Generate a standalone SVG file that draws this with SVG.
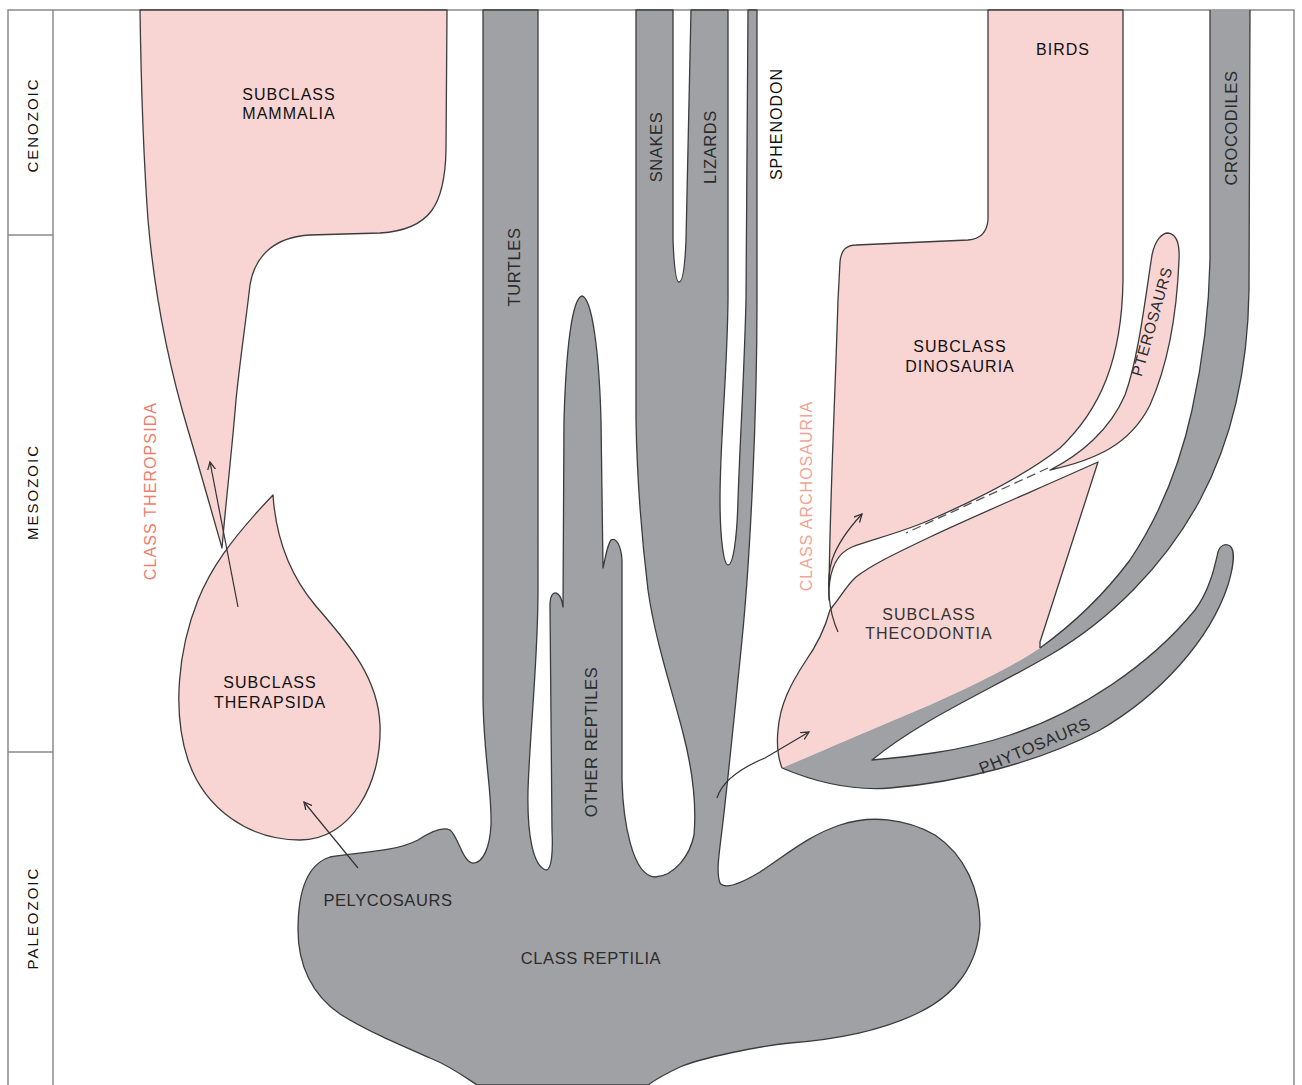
<svg xmlns="http://www.w3.org/2000/svg" width="1302" height="1085" viewBox="0 0 1302 1085">
<defs>
<style>
.pink{fill:#f8d4d2;stroke:#3c3c3c;stroke-width:1.3;stroke-linejoin:round}
.pinkf{fill:#f8d4d2;stroke:none}
.gray{fill:#a0a1a5;stroke:#3c3c3c;stroke-width:1.3;stroke-linejoin:round}
.grayf{fill:#a0a1a5;stroke:none}
.edge{fill:none;stroke:#3c3c3c;stroke-width:1.3;stroke-linejoin:round}
.frame{fill:none;stroke:#8a8a8a;stroke-width:1.5}
text{font-family:"Liberation Sans",Arial,sans-serif}
.lbl{font-size:16px;fill:#111;text-anchor:middle;letter-spacing:1px}
.glbl{font-size:16.5px;fill:#2b2b2b;text-anchor:middle;letter-spacing:0.6px}
.era{font-size:15px;fill:#111;text-anchor:middle;letter-spacing:2px}
.cls{font-size:16px;fill:#f07c6c;text-anchor:middle;letter-spacing:1.1px}
.cls2{font-size:16px;fill:#f3a394;text-anchor:middle;letter-spacing:1px}
.arr{fill:none;stroke:#333;stroke-width:1.2;marker-end:url(#ah)}
.dash{fill:none;stroke:#555;stroke-width:1.3;stroke-dasharray:9 5}
</style>
<marker id="ah" markerWidth="12" markerHeight="12" refX="8" refY="4" orient="auto" markerUnits="userSpaceOnUse">
<path d="M0,0 L8,4 L0,8" fill="none" stroke="#333" stroke-width="1.3"/>
</marker>
</defs>
<rect width="1302" height="1085" fill="#ffffff"/>

<g id="frame">
<path class="frame" d="M8,1085 L8,10 L1294,10 L1294,1085 M53,10 L53,1085 M8,235 L53,235 M8,752 L53,752"/>
<text class="era" transform="translate(38,125) rotate(-90)">CENOZOIC</text>
<text class="era" transform="translate(38,492) rotate(-90)">MESOZOIC</text>
<text class="era" transform="translate(38,918) rotate(-90)">PALEOZOIC</text>
</g>

<g id="reptilia">
<path class="gray" d="M483,10 L538,10 L538,590 C538,660 530,730 528,790 C527,835 533,866 546,870 C552,870 553,850 552,830 L550,605 C550,596 553,592 556,593 C560,594 562,600 563,607 L564,420 C566,350 572,298 582,296 C592,298 599,350 601,420 L603,568 C605,560 607,545 611,540 C616,537 621,545 622,560 L622,780 C623,820 632,876 655,877 C675,876 690,855 694,835 C697,800 690,760 683,733 C672,690 655,640 648,590 C642,540 637,480 636,420 L636,10 L673,10 L673,240 C674,265 676,282 679,282 C683,282 685,265 686,240 L691,10 L728,10 L728,300 C727,380 720,440 720,500 C720,540 724,565 728,565 C733,565 737,540 738,500 C740,440 744,380 746,300 L748,10 L757,10 L757,300 C757,420 750,560 742,640 C736,700 728,780 722,830 C719,855 716,872 720,883 C725,890 740,884 760,872 C790,852 810,835 840,825 C870,815 905,818 935,835 C965,855 980,890 980,925 C978,965 955,995 920,1012 C880,1032 830,1040 790,1043 C760,1046 700,1058 680,1067 C665,1074 655,1080 648,1085 L477,1085 C462,1075 450,1066 430,1058 C400,1045 365,1030 340,1014 C312,995 298,965 298,930 C298,895 305,865 330,857 C360,852 395,852 418,840 C430,832 442,826 450,830 C458,836 462,860 472,863 C484,864 490,845 491,825 C492,790 484,760 483,700 Z"/>
<text class="glbl" transform="translate(520,267) rotate(-90)">TURTLES</text>
<text class="glbl" transform="translate(597,742) rotate(-90)">OTHER REPTILES</text>
<text class="glbl" transform="translate(662,147) rotate(-90)">SNAKES</text>
<text class="glbl" transform="translate(716,147) rotate(-90)">LIZARDS</text>
<text class="lbl" transform="translate(782,124) rotate(-90)">SPHENODON</text>
<text class="glbl" x="388" y="906">PELYCOSAURS</text>
<text class="glbl" x="591" y="964">CLASS REPTILIA</text>
</g>

<g id="mammalia">
<path class="pink" d="M140,10 L447,10 L446,150 C445,205 430,230 380,233 L310,235 C275,237 255,255 250,285 C246,320 240,360 236,400 C232,450 226,500 222,548 C214,520 200,470 188,430 C170,370 155,300 148,220 C143,150 141,80 140,10 Z"/>
<text class="lbl" x="289" y="100">SUBCLASS</text>
<text class="lbl" x="289" y="119">MAMMALIA</text>
</g>

<g id="therapsida">
<path class="pink" d="M273,495 C276,540 290,575 315,605 C345,640 378,675 380,725 C382,785 350,840 300,840 C250,840 205,810 188,760 C172,712 178,650 198,600 C210,570 230,540 273,495 Z"/>
<text class="lbl" x="270" y="688">SUBCLASS</text>
<text class="lbl" x="270" y="708">THERAPSIDA</text>
<text class="cls" transform="translate(156,491) rotate(-90)">CLASS THEROPSIDA</text>
</g>

<g id="thecodontia">
<path class="pinkf" d="M1098,462 L1040,642 L1040,648 C1015,665 975,685 930,705 C870,730 820,752 782,768 C777,755 777,740 778,730 C780,705 790,685 805,662 C817,645 826,625 830,610 L833,606 C840,598 846,586 856,577 C870,566 890,556 930,537 C970,518 1040,488 1098,462 Z"/>
</g>

<g id="crocodiles">
<path class="grayf" d="M1210,10 L1250,10 L1249,290 C1248,370 1232,440 1200,500 C1165,565 1110,620 1050,655 C990,690 920,720 872,760 C905,757 960,752 1010,735 C1080,712 1150,665 1195,610 C1210,590 1215,565 1218,552 C1220,545 1226,543 1230,546 C1235,550 1234,565 1228,585 C1210,640 1160,695 1100,730 C1040,762 960,782 890,788 C850,791 815,782 782,768 C820,752 870,730 930,705 C975,685 1015,665 1040,648 C1065,630 1100,600 1130,560 C1160,515 1180,465 1192,410 C1203,360 1209,310 1210,260 Z"/>
<path class="edge" d="M1040,648 C1065,630 1100,600 1130,560 C1160,515 1180,465 1192,410 C1203,360 1209,310 1210,260 L1210,10"/>
<path class="edge" d="M1250,10 L1249,290 C1248,370 1232,440 1200,500 C1165,565 1110,620 1050,655 C990,690 920,720 872,760 C905,757 960,752 1010,735 C1080,712 1150,665 1195,610 C1210,590 1215,565 1218,552 C1220,545 1226,543 1230,546 C1235,550 1234,565 1228,585 C1210,640 1160,695 1100,730 C1040,762 960,782 890,788 C850,791 815,782 782,768"/>
<path class="edge" d="M782,768 C777,755 777,740 778,730 C780,705 790,685 805,662 C817,645 826,625 830,610 L833,606 C840,598 846,586 856,577 C870,566 890,556 930,537 C970,518 1040,488 1098,462 L1040,642 L1040,648"/>
<text class="glbl" transform="translate(1237,128) rotate(-90)">CROCODILES</text>
<text class="glbl" transform="translate(1037,751) rotate(-23)">PHYTOSAURS</text>
<text class="lbl" x="929" y="620" style="fill:#333">SUBCLASS</text>
<text class="lbl" x="929" y="639" style="fill:#333">THECODONTIA</text>
</g>

<g id="dinosauria">
<path class="pink" d="M988,10 L1123,10 L1123,280 C1122,360 1100,410 1060,448 C1030,472 980,498 930,520 C900,533 870,540 852,547 C838,553 830,568 829,590 L829,600 C829,520 835,400 838,300 L840,262 C841,250 846,245 856,245 L968,240 C980,239 987,232 988,220 Z"/>
<text class="lbl" x="1063" y="55">BIRDS</text>
<text class="lbl" x="960" y="352">SUBCLASS</text>
<text class="lbl" x="960" y="372">DINOSAURIA</text>
<text class="cls2" transform="translate(812,496) rotate(-90)">CLASS ARCHOSAURIA</text>
</g>

<g id="pterosaurs">
<path class="pink" d="M1050,470 C1080,455 1110,430 1125,395 C1138,360 1145,300 1152,255 C1155,240 1162,233 1168,233 C1176,234 1180,242 1179,260 C1177,310 1170,360 1150,405 C1130,445 1095,460 1050,470 Z"/>
<text class="glbl" style="font-size:15.5px" transform="translate(1157,323) rotate(-74)">PTEROSAURS</text>
</g>

<g id="connectors">
<path class="arr" d="M238,607 L210,462"/>
<path class="arr" d="M358,868 L304,802"/>
<path class="arr" d="M717,798 Q724,775 765,758 L809,732"/>
<path class="arr" d="M838,632 C828,610 826,580 832,560 C838,542 850,527 862,514"/>
<path class="dash" d="M1048,468 L906,533"/>
</g>
</svg>
